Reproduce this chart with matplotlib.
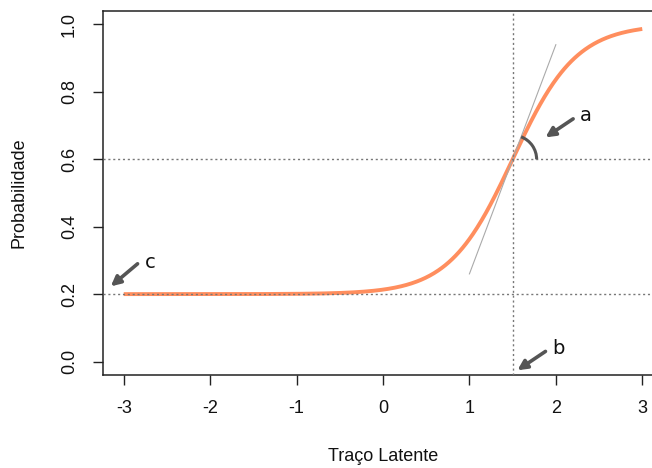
import numpy as np
import matplotlib
matplotlib.use('Agg')
import matplotlib.pyplot as plt
import matplotlib.transforms as mtransforms
from matplotlib.patches import Arc

# parâmetros do item (modelo logístico de 3 parâmetros)
a_par = 1.6
b_par = 1.5
c_par = 0.2
D = 1.7
tangent_slope = 0.68   # inclinação da reta desenhada no ponto b
tangent_span = [1.0, 2.0]

theta = np.linspace(-3, 3, 601)
prob = c_par + (1 - c_par) / (1 + np.exp(-D * a_par * (theta - b_par)))
p_b = c_par + (1 - c_par) / 2

x_ticks = [-3, -2, -1, 0, 1, 2, 3]
y_ticks = [0.0, 0.2, 0.4, 0.6, 0.8, 1.0]

plt.rcParams['font.family'] = 'Liberation Sans'
txt_col = '#111111'

fig = plt.figure(figsize=(6.52, 4.68), dpi=100)
ax = fig.add_axes([103 / 652, 1 - 375 / 468, 560 / 652, 364 / 468])

ax.plot(theta, prob, color='#FF8E5E', lw=2.8, solid_capstyle='butt', zorder=2)

tx = np.array(tangent_span)
ax.plot(tx, p_b + tangent_slope * (tx - b_par), color='#AAAAAA', lw=0.8, zorder=3)

ax.axhline(c_par, color='#777777', lw=1, ls=(0, (1.5, 2)), zorder=4)
ax.axhline(p_b, color='#777777', lw=1, ls=(0, (1.5, 2)), zorder=4)
ax.axvline(b_par, color='#777777', lw=1, ls=(0, (1.5, 2)), zorder=4)

ax.set_xlim(-3.24, 3.24)
ax.set_ylim(-0.04, 1.04)
ax.set_xticks(x_ticks)
ax.set_xticklabels([str(v) for v in x_ticks])
ax.set_yticks(y_ticks)
ax.set_yticklabels([f'{v:.1f}' for v in y_ticks], rotation=90, va='center')
ax.tick_params(direction='out', length=7, width=1, labelsize=13, colors='#222222',
               labelcolor=txt_col, pad=11)
ax.tick_params(axis='y', pad=11)
for s in ax.spines.values():
    s.set_linewidth(1.1)
    s.set_color('#222222')

ax.set_xlabel('Traço Latente', fontsize=13, labelpad=22, color=txt_col)
ax.set_ylabel('Probabilidade', fontsize=13, labelpad=24, color=txt_col)

# arco indicando a inclinação (parâmetro a)
fig.canvas.draw()
p0 = ax.transData.transform((b_par, p_b))
p1 = ax.transData.transform((b_par + 0.1, p_b + 0.1 * tangent_slope))
ang = np.degrees(np.arctan2(p1[1] - p0[1], p1[0] - p0[0]))
trans = fig.dpi_scale_trans + mtransforms.ScaledTranslation(b_par, p_b, ax.transData)
ax.add_patch(Arc((0, 0), 0.48, 0.48, theta1=0, theta2=ang, transform=trans,
                 color='#555555', lw=2.2, zorder=5))

arrow = dict(arrowstyle='-|>', color='#555555', lw=2.6, mutation_scale=14,
             shrinkA=0, shrinkB=0)
ax.annotate('', xy=(b_par + 0.38, p_b + 0.065), xytext=(b_par + 0.7, p_b + 0.12),
            arrowprops=arrow, zorder=6)
ax.text(b_par + 0.78, p_b + 0.13, 'a', fontsize=14, family='DejaVu Sans',
        color=txt_col, va='center', ha='left')
ax.annotate('', xy=(-3.15, c_par + 0.023), xytext=(-2.84, c_par + 0.09),
            arrowprops=arrow, zorder=6)
ax.text(-2.76, c_par + 0.095, 'c', fontsize=14, family='DejaVu Sans',
        color=txt_col, va='center', ha='left')
ax.annotate('', xy=(b_par + 0.055, -0.026), xytext=(b_par + 0.38, 0.03),
            arrowprops=arrow, zorder=6)
ax.text(b_par + 0.46, 0.04, 'b', fontsize=14, family='DejaVu Sans',
        color=txt_col, va='center', ha='left')

plt.savefig('out.png', dpi=100)
